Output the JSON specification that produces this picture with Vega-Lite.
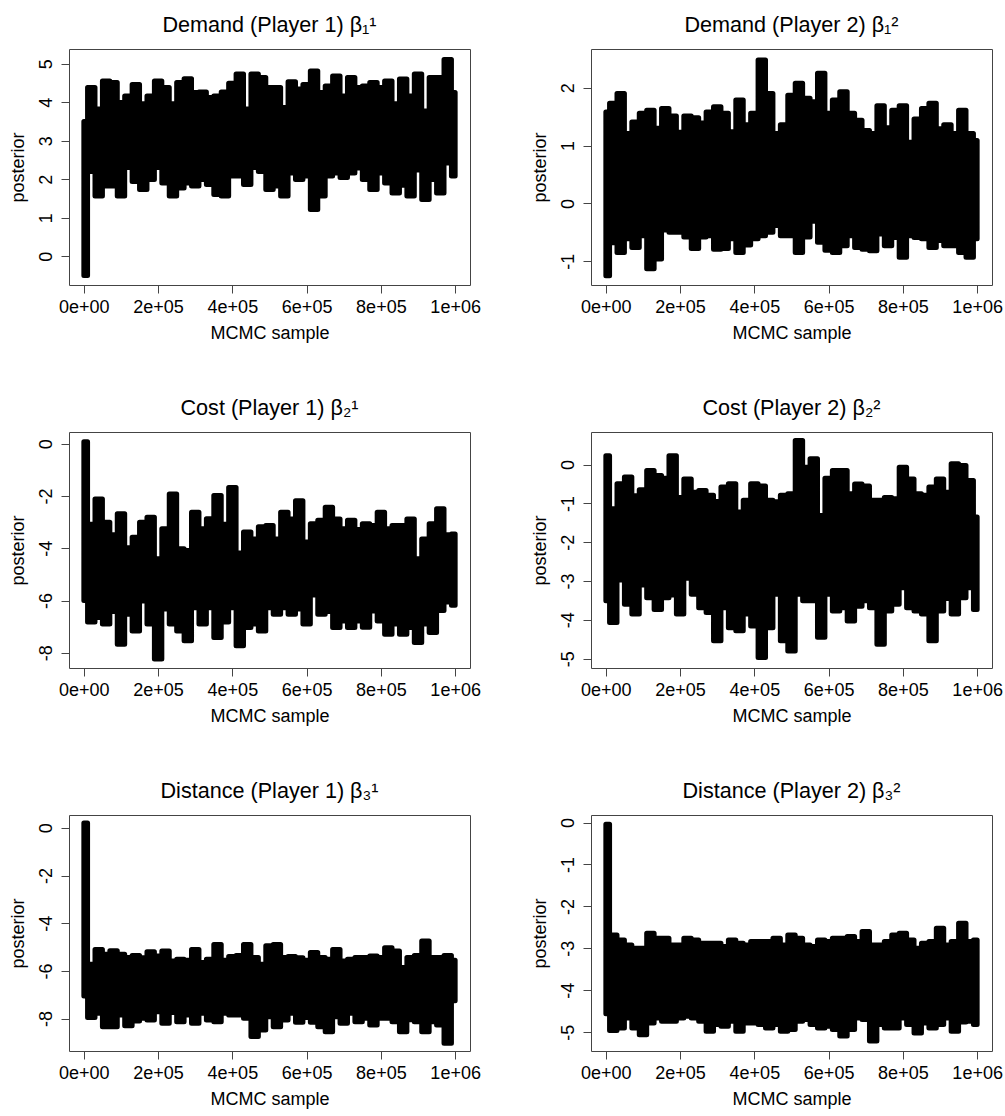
{
  "$schema": "https://vega.github.io/schema/vega-lite/v6.json",
  "background": "white",
  "padding": {"left": 8, "top": 14, "right": 0, "bottom": 0},
  "columns": 2,
  "bounds": "flush",
  "spacing": {"row": 147, "column": 121},
  "config": {
    "font": "Liberation Sans",
    "view": {"stroke": "#444", "strokeWidth": 1},
    "axis": {"labelFont": "Liberation Sans", "titleFont": "Liberation Sans", "labelFontSize": 18, "titleFontSize": 18, "titleFontWeight": "normal", "labelColor": "black", "titleColor": "black", "grid": false, "domain": false, "tickColor": "#444", "tickSize": 8, "labelOverlap": false, "labelFlush": false},
    "axisX": {"labelPadding": 5, "titlePadding": 8},
    "axisY": {"labelAngle": -90, "labelAlign": "center", "labelBaseline": "bottom", "labelPadding": 6, "titlePadding": 10},
    "title": {"fontSize": 21.6, "fontWeight": "normal", "font": "Liberation Sans", "offset": 12, "color": "black"},
    "area": {"interpolate": "step", "orient": "vertical", "color": "black", "stroke": "black", "strokeWidth": 5, "strokeJoin": "round", "strokeCap": "round"}
  },
  "datasets": {
    "p1": [
      {"x":0,"hi":3.5,"lo":-0.5},{"x":20000,"hi":4.38,"lo":2.2},{"x":40000,"hi":3.82,"lo":1.56},{"x":60000,"hi":4.55,"lo":1.82},{"x":80000,"hi":4.51,"lo":1.82},{"x":100000,"hi":3.99,"lo":1.56},{"x":120000,"hi":4.16,"lo":2.3},{"x":140000,"hi":4.46,"lo":1.94},{"x":160000,"hi":3.96,"lo":1.73},{"x":180000,"hi":4.16,"lo":1.99},{"x":200000,"hi":4.55,"lo":2.3},{"x":220000,"hi":4.38,"lo":1.9},{"x":240000,"hi":3.96,"lo":1.56},{"x":260000,"hi":4.51,"lo":1.77},{"x":280000,"hi":4.61,"lo":1.9},{"x":300000,"hi":4.25,"lo":1.82},{"x":320000,"hi":4.26,"lo":1.99},{"x":340000,"hi":4.12,"lo":1.86},{"x":360000,"hi":4.16,"lo":1.6},{"x":380000,"hi":4.26,"lo":1.56},{"x":400000,"hi":4.49,"lo":2.08},{"x":420000,"hi":4.73,"lo":2.08},{"x":440000,"hi":3.82,"lo":1.86},{"x":460000,"hi":4.73,"lo":2.3},{"x":480000,"hi":4.64,"lo":2.2},{"x":500000,"hi":4.38,"lo":1.73},{"x":520000,"hi":4.38,"lo":1.82},{"x":540000,"hi":3.86,"lo":1.56},{"x":560000,"hi":4.53,"lo":2.16},{"x":580000,"hi":4.34,"lo":1.99},{"x":600000,"hi":4.46,"lo":2.08},{"x":620000,"hi":4.81,"lo":1.21},{"x":640000,"hi":4.25,"lo":1.56},{"x":660000,"hi":4.42,"lo":2.08},{"x":680000,"hi":4.68,"lo":2.16},{"x":700000,"hi":4.16,"lo":2.04},{"x":720000,"hi":4.64,"lo":2.16},{"x":740000,"hi":4.38,"lo":2.29},{"x":760000,"hi":4.42,"lo":1.99},{"x":780000,"hi":4.51,"lo":1.73},{"x":800000,"hi":4.38,"lo":2.16},{"x":820000,"hi":4.55,"lo":1.9},{"x":840000,"hi":3.96,"lo":1.64},{"x":860000,"hi":4.6,"lo":1.84},{"x":880000,"hi":4.16,"lo":1.56},{"x":900000,"hi":4.73,"lo":2.24},{"x":920000,"hi":3.77,"lo":1.47},{"x":940000,"hi":4.64,"lo":1.99},{"x":960000,"hi":4.64,"lo":1.64},{"x":980000,"hi":5.11,"lo":2.42},{"x":1000000,"hi":4.25,"lo":2.08}
    ],
    "p2": [
      {"x":0,"hi":1.58,"lo":-1.25},{"x":20000,"hi":1.73,"lo":-0.68},{"x":40000,"hi":1.9,"lo":-0.85},{"x":60000,"hi":1.21,"lo":-0.61},{"x":80000,"hi":1.41,"lo":-0.76},{"x":100000,"hi":1.56,"lo":-0.56},{"x":120000,"hi":1.61,"lo":-1.13},{"x":140000,"hi":1.3,"lo":-0.96},{"x":160000,"hi":1.64,"lo":-0.46},{"x":180000,"hi":1.51,"lo":-0.5},{"x":200000,"hi":1.23,"lo":-0.5},{"x":220000,"hi":1.51,"lo":-0.58},{"x":240000,"hi":1.48,"lo":-0.78},{"x":260000,"hi":1.39,"lo":-0.58},{"x":280000,"hi":1.58,"lo":-0.56},{"x":300000,"hi":1.67,"lo":-0.79},{"x":320000,"hi":1.56,"lo":-0.78},{"x":340000,"hi":1.24,"lo":-0.61},{"x":360000,"hi":1.79,"lo":-0.85},{"x":380000,"hi":1.36,"lo":-0.72},{"x":400000,"hi":1.56,"lo":-0.61},{"x":420000,"hi":2.48,"lo":-0.56},{"x":440000,"hi":1.9,"lo":-0.5},{"x":460000,"hi":1.21,"lo":-0.38},{"x":480000,"hi":1.36,"lo":-0.56},{"x":500000,"hi":1.87,"lo":-0.56},{"x":520000,"hi":2.08,"lo":-0.85},{"x":540000,"hi":1.82,"lo":-0.58},{"x":560000,"hi":1.76,"lo":-0.31},{"x":580000,"hi":2.25,"lo":-0.67},{"x":600000,"hi":1.56,"lo":-0.81},{"x":620000,"hi":1.79,"lo":-0.85},{"x":640000,"hi":1.93,"lo":-0.73},{"x":660000,"hi":1.56,"lo":-0.56},{"x":680000,"hi":1.44,"lo":-0.76},{"x":700000,"hi":1.26,"lo":-0.79},{"x":720000,"hi":1.21,"lo":-0.82},{"x":740000,"hi":1.69,"lo":-0.53},{"x":760000,"hi":1.31,"lo":-0.73},{"x":780000,"hi":1.61,"lo":-0.59},{"x":800000,"hi":1.69,"lo":-0.93},{"x":820000,"hi":1.06,"lo":-0.56},{"x":840000,"hi":1.46,"lo":-0.59},{"x":860000,"hi":1.64,"lo":-0.61},{"x":880000,"hi":1.73,"lo":-0.76},{"x":900000,"hi":1.29,"lo":-0.64},{"x":920000,"hi":1.36,"lo":-0.73},{"x":940000,"hi":1.21,"lo":-0.73},{"x":960000,"hi":1.61,"lo":-0.85},{"x":980000,"hi":1.21,"lo":-0.93},{"x":1000000,"hi":1.09,"lo":-0.61}
    ],
    "p3": [
      {"x":0,"hi":0.08,"lo":-6.0},{"x":20000,"hi":-3.08,"lo":-6.82},{"x":40000,"hi":-2.11,"lo":-6.65},{"x":60000,"hi":-3.0,"lo":-6.9},{"x":80000,"hi":-3.48,"lo":-6.42},{"x":100000,"hi":-2.68,"lo":-7.67},{"x":120000,"hi":-3.98,"lo":-6.52},{"x":140000,"hi":-3.58,"lo":-7.16},{"x":160000,"hi":-3.0,"lo":-6.02},{"x":180000,"hi":-2.81,"lo":-6.9},{"x":200000,"hi":-4.4,"lo":-8.24},{"x":220000,"hi":-3.25,"lo":-6.32},{"x":240000,"hi":-1.92,"lo":-6.9},{"x":260000,"hi":-4.02,"lo":-7.16},{"x":280000,"hi":-4.08,"lo":-7.54},{"x":300000,"hi":-2.62,"lo":-6.27},{"x":320000,"hi":-3.25,"lo":-6.9},{"x":340000,"hi":-2.87,"lo":-6.27},{"x":360000,"hi":-1.98,"lo":-7.41},{"x":380000,"hi":-3.08,"lo":-6.82},{"x":400000,"hi":-1.67,"lo":-6.27},{"x":420000,"hi":-4.18,"lo":-7.73},{"x":440000,"hi":-3.38,"lo":-7.03},{"x":460000,"hi":-3.64,"lo":-6.9},{"x":480000,"hi":-3.18,"lo":-7.16},{"x":500000,"hi":-3.13,"lo":-6.27},{"x":520000,"hi":-3.64,"lo":-6.52},{"x":540000,"hi":-2.62,"lo":-6.27},{"x":560000,"hi":-2.88,"lo":-6.52},{"x":580000,"hi":-2.18,"lo":-6.32},{"x":600000,"hi":-3.76,"lo":-6.9},{"x":620000,"hi":-3.06,"lo":-5.79},{"x":640000,"hi":-2.93,"lo":-6.52},{"x":660000,"hi":-2.43,"lo":-6.42},{"x":680000,"hi":-2.88,"lo":-7.03},{"x":700000,"hi":-3.25,"lo":-6.78},{"x":720000,"hi":-2.93,"lo":-7.03},{"x":740000,"hi":-3.28,"lo":-6.78},{"x":760000,"hi":-3.06,"lo":-7.02},{"x":780000,"hi":-3.13,"lo":-6.4},{"x":800000,"hi":-2.62,"lo":-6.78},{"x":820000,"hi":-3.25,"lo":-7.29},{"x":840000,"hi":-3.13,"lo":-6.9},{"x":860000,"hi":-3.13,"lo":-7.29},{"x":880000,"hi":-2.88,"lo":-7.03},{"x":900000,"hi":-4.4,"lo":-7.6},{"x":920000,"hi":-3.64,"lo":-6.9},{"x":940000,"hi":-3.06,"lo":-7.22},{"x":960000,"hi":-2.49,"lo":-6.38},{"x":980000,"hi":-3.48,"lo":-6.05},{"x":1000000,"hi":-3.45,"lo":-6.18}
    ],
    "p4": [
      {"x":0,"hi":0.23,"lo":-3.51},{"x":20000,"hi":-1.14,"lo":-4.07},{"x":40000,"hi":-0.49,"lo":-2.97},{"x":60000,"hi":-0.32,"lo":-3.6},{"x":80000,"hi":-0.8,"lo":-3.85},{"x":100000,"hi":-0.65,"lo":-3.1},{"x":120000,"hi":-0.15,"lo":-3.43},{"x":140000,"hi":-0.28,"lo":-3.73},{"x":160000,"hi":-0.35,"lo":-3.43},{"x":180000,"hi":0.23,"lo":-3.36},{"x":200000,"hi":-0.85,"lo":-3.85},{"x":220000,"hi":-0.37,"lo":-2.93},{"x":240000,"hi":-0.71,"lo":-3.34},{"x":260000,"hi":-0.67,"lo":-3.69},{"x":280000,"hi":-0.79,"lo":-3.81},{"x":300000,"hi":-0.95,"lo":-4.54},{"x":320000,"hi":-0.58,"lo":-3.69},{"x":340000,"hi":-0.49,"lo":-4.2},{"x":360000,"hi":-1.22,"lo":-4.28},{"x":380000,"hi":-0.92,"lo":-3.85},{"x":400000,"hi":-0.49,"lo":-4.16},{"x":420000,"hi":-0.55,"lo":-4.97},{"x":440000,"hi":-0.92,"lo":-4.2},{"x":460000,"hi":-0.96,"lo":-3.34},{"x":480000,"hi":-0.79,"lo":-4.54},{"x":500000,"hi":-0.75,"lo":-4.8},{"x":520000,"hi":0.62,"lo":-3.34},{"x":540000,"hi":-0.07,"lo":-3.51},{"x":560000,"hi":0.15,"lo":-3.51},{"x":580000,"hi":-1.31,"lo":-4.45},{"x":600000,"hi":-0.35,"lo":-3.34},{"x":620000,"hi":-0.15,"lo":-3.77},{"x":640000,"hi":-0.15,"lo":-3.69},{"x":660000,"hi":-0.75,"lo":-4.03},{"x":680000,"hi":-0.5,"lo":-3.65},{"x":700000,"hi":-0.55,"lo":-3.51},{"x":720000,"hi":-0.92,"lo":-3.69},{"x":740000,"hi":-0.92,"lo":-4.63},{"x":760000,"hi":-0.85,"lo":-3.77},{"x":780000,"hi":-0.88,"lo":-3.6},{"x":800000,"hi":-0.07,"lo":-3.17},{"x":820000,"hi":-0.37,"lo":-3.69},{"x":840000,"hi":-0.75,"lo":-3.77},{"x":860000,"hi":-0.79,"lo":-3.85},{"x":880000,"hi":-0.58,"lo":-4.54},{"x":900000,"hi":-0.37,"lo":-3.77},{"x":920000,"hi":-0.71,"lo":-3.45},{"x":940000,"hi":0.02,"lo":-3.85},{"x":960000,"hi":-0.02,"lo":-3.43},{"x":980000,"hi":-0.41,"lo":-3.17},{"x":1000000,"hi":-1.35,"lo":-3.73}
    ],
    "p5": [
      {"x":0,"hi":0.2,"lo":-7.05},{"x":20000,"hi":-5.72,"lo":-7.95},{"x":40000,"hi":-5.1,"lo":-7.78},{"x":60000,"hi":-5.3,"lo":-8.34},{"x":80000,"hi":-5.15,"lo":-8.34},{"x":100000,"hi":-5.3,"lo":-7.85},{"x":120000,"hi":-5.44,"lo":-8.3},{"x":140000,"hi":-5.35,"lo":-8.1},{"x":160000,"hi":-5.45,"lo":-7.99},{"x":180000,"hi":-5.2,"lo":-8.06},{"x":200000,"hi":-5.37,"lo":-7.71},{"x":220000,"hi":-5.17,"lo":-8.2},{"x":240000,"hi":-5.58,"lo":-7.75},{"x":260000,"hi":-5.51,"lo":-8.13},{"x":280000,"hi":-5.55,"lo":-7.85},{"x":300000,"hi":-5.1,"lo":-8.2},{"x":320000,"hi":-5.65,"lo":-7.78},{"x":340000,"hi":-5.51,"lo":-8.06},{"x":360000,"hi":-4.89,"lo":-8.13},{"x":380000,"hi":-5.55,"lo":-7.78},{"x":400000,"hi":-5.4,"lo":-7.85},{"x":420000,"hi":-5.35,"lo":-7.85},{"x":440000,"hi":-4.89,"lo":-7.99},{"x":460000,"hi":-5.44,"lo":-8.75},{"x":480000,"hi":-5.72,"lo":-8.48},{"x":500000,"hi":-4.95,"lo":-7.92},{"x":520000,"hi":-4.89,"lo":-8.34},{"x":540000,"hi":-5.44,"lo":-8.06},{"x":560000,"hi":-5.4,"lo":-7.78},{"x":580000,"hi":-5.45,"lo":-8.15},{"x":600000,"hi":-5.55,"lo":-7.95},{"x":620000,"hi":-5.23,"lo":-8.15},{"x":640000,"hi":-5.44,"lo":-8.34},{"x":660000,"hi":-5.51,"lo":-8.55},{"x":680000,"hi":-5.1,"lo":-7.92},{"x":700000,"hi":-5.58,"lo":-8.2},{"x":720000,"hi":-5.51,"lo":-7.78},{"x":740000,"hi":-5.44,"lo":-8.13},{"x":760000,"hi":-5.44,"lo":-7.99},{"x":780000,"hi":-5.37,"lo":-8.27},{"x":800000,"hi":-5.44,"lo":-7.99},{"x":820000,"hi":-5.03,"lo":-7.99},{"x":840000,"hi":-5.17,"lo":-8.13},{"x":860000,"hi":-5.86,"lo":-8.55},{"x":880000,"hi":-5.44,"lo":-8.05},{"x":900000,"hi":-5.35,"lo":-8.13},{"x":920000,"hi":-4.75,"lo":-8.55},{"x":940000,"hi":-5.44,"lo":-8.13},{"x":960000,"hi":-5.44,"lo":-8.27},{"x":980000,"hi":-5.35,"lo":-9.04},{"x":1000000,"hi":-5.55,"lo":-7.25}
    ],
    "p6": [
      {"x":0,"hi":-0.04,"lo":-4.56},{"x":20000,"hi":-2.68,"lo":-4.96},{"x":40000,"hi":-2.8,"lo":-4.9},{"x":60000,"hi":-2.92,"lo":-4.66},{"x":80000,"hi":-3.0,"lo":-4.9},{"x":100000,"hi":-3.0,"lo":-5.06},{"x":120000,"hi":-2.64,"lo":-4.78},{"x":140000,"hi":-2.76,"lo":-4.66},{"x":160000,"hi":-2.76,"lo":-4.74},{"x":180000,"hi":-2.92,"lo":-4.74},{"x":200000,"hi":-2.92,"lo":-4.66},{"x":220000,"hi":-2.76,"lo":-4.62},{"x":240000,"hi":-2.8,"lo":-4.66},{"x":260000,"hi":-2.88,"lo":-4.74},{"x":280000,"hi":-2.88,"lo":-4.98},{"x":300000,"hi":-2.88,"lo":-4.82},{"x":320000,"hi":-2.96,"lo":-4.86},{"x":340000,"hi":-2.8,"lo":-4.74},{"x":360000,"hi":-2.88,"lo":-4.98},{"x":380000,"hi":-2.92,"lo":-4.78},{"x":400000,"hi":-2.84,"lo":-4.78},{"x":420000,"hi":-2.84,"lo":-4.82},{"x":440000,"hi":-2.84,"lo":-4.9},{"x":460000,"hi":-2.76,"lo":-4.82},{"x":480000,"hi":-2.92,"lo":-4.98},{"x":500000,"hi":-2.68,"lo":-4.94},{"x":520000,"hi":-2.76,"lo":-4.74},{"x":540000,"hi":-2.92,"lo":-4.7},{"x":560000,"hi":-2.96,"lo":-4.82},{"x":580000,"hi":-2.8,"lo":-4.9},{"x":600000,"hi":-2.84,"lo":-4.86},{"x":620000,"hi":-2.76,"lo":-4.94},{"x":640000,"hi":-2.76,"lo":-5.09},{"x":660000,"hi":-2.72,"lo":-4.94},{"x":680000,"hi":-2.84,"lo":-4.66},{"x":700000,"hi":-2.6,"lo":-4.7},{"x":720000,"hi":-2.92,"lo":-5.21},{"x":740000,"hi":-2.92,"lo":-4.82},{"x":760000,"hi":-2.84,"lo":-4.9},{"x":780000,"hi":-2.68,"lo":-4.9},{"x":800000,"hi":-2.64,"lo":-4.66},{"x":820000,"hi":-2.8,"lo":-4.82},{"x":840000,"hi":-3.0,"lo":-5.02},{"x":860000,"hi":-2.88,"lo":-4.78},{"x":880000,"hi":-2.84,"lo":-4.9},{"x":900000,"hi":-2.52,"lo":-4.82},{"x":920000,"hi":-2.92,"lo":-4.66},{"x":940000,"hi":-2.84,"lo":-4.98},{"x":960000,"hi":-2.4,"lo":-4.76},{"x":980000,"hi":-2.84,"lo":-4.74},{"x":1000000,"hi":-2.8,"lo":-4.82}
    ]
  },
  "concat": [
    {
      "width": 401, "height": 236,
      "title": "Demand (Player 1) β₁¹",
      "data": {"name": "p1"},
      "mark": {"type": "area"},
      "encoding": {
        "x": {"field": "x", "type": "quantitative", "title": "MCMC sample", "scale": {"domain": [-40000, 1040000], "nice": false, "zero": false}, "axis": {"values": [0, 200000, 400000, 600000, 800000, 1000000], "labelExpr": "datum.value == 0 ? '0e+00' : datum.value < 1000000 ? format(datum.value / 100000, 'd') + 'e+05' : '1e+06'"}},
        "y": {"field": "hi", "type": "quantitative", "title": "posterior", "scale": {"domain": [-0.75, 5.38], "nice": false, "zero": false}, "axis": {"values": [0, 1, 2, 3, 4, 5], "labelExpr": "'' + datum.value"}},
        "y2": {"field": "lo"}
      }
    },
    {
      "width": 401, "height": 236,
      "title": "Demand (Player 2) β₁²",
      "data": {"name": "p2"},
      "mark": {"type": "area"},
      "encoding": {
        "x": {"field": "x", "type": "quantitative", "title": "MCMC sample", "scale": {"domain": [-40000, 1040000], "nice": false, "zero": false}, "axis": {"values": [0, 200000, 400000, 600000, 800000, 1000000], "labelExpr": "datum.value == 0 ? '0e+00' : datum.value < 1000000 ? format(datum.value / 100000, 'd') + 'e+05' : '1e+06'"}},
        "y": {"field": "hi", "type": "quantitative", "title": "posterior", "scale": {"domain": [-1.41, 2.67], "nice": false, "zero": false}, "axis": {"values": [-1, 0, 1, 2], "labelExpr": "'' + datum.value"}},
        "y2": {"field": "lo"}
      }
    },
    {
      "width": 401, "height": 236,
      "title": "Cost (Player 1) β₂¹",
      "data": {"name": "p3"},
      "mark": {"type": "area"},
      "encoding": {
        "x": {"field": "x", "type": "quantitative", "title": "MCMC sample", "scale": {"domain": [-40000, 1040000], "nice": false, "zero": false}, "axis": {"values": [0, 200000, 400000, 600000, 800000, 1000000], "labelExpr": "datum.value == 0 ? '0e+00' : datum.value < 1000000 ? format(datum.value / 100000, 'd') + 'e+05' : '1e+06'"}},
        "y": {"field": "hi", "type": "quantitative", "title": "posterior", "scale": {"domain": [-8.58, 0.45], "nice": false, "zero": false}, "axis": {"values": [-8, -6, -4, -2, 0], "labelExpr": "'' + datum.value"}},
        "y2": {"field": "lo"}
      }
    },
    {
      "width": 401, "height": 236,
      "title": "Cost (Player 2) β₂²",
      "data": {"name": "p4"},
      "mark": {"type": "area"},
      "encoding": {
        "x": {"field": "x", "type": "quantitative", "title": "MCMC sample", "scale": {"domain": [-40000, 1040000], "nice": false, "zero": false}, "axis": {"values": [0, 200000, 400000, 600000, 800000, 1000000], "labelExpr": "datum.value == 0 ? '0e+00' : datum.value < 1000000 ? format(datum.value / 100000, 'd') + 'e+05' : '1e+06'"}},
        "y": {"field": "hi", "type": "quantitative", "title": "posterior", "scale": {"domain": [-5.24, 0.84], "nice": false, "zero": false}, "axis": {"values": [-5, -4, -3, -2, -1, 0], "labelExpr": "'' + datum.value"}},
        "y2": {"field": "lo"}
      }
    },
    {
      "width": 401, "height": 236,
      "title": "Distance (Player 1) β₃¹",
      "data": {"name": "p5"},
      "mark": {"type": "area"},
      "encoding": {
        "x": {"field": "x", "type": "quantitative", "title": "MCMC sample", "scale": {"domain": [-40000, 1040000], "nice": false, "zero": false}, "axis": {"values": [0, 200000, 400000, 600000, 800000, 1000000], "labelExpr": "datum.value == 0 ? '0e+00' : datum.value < 1000000 ? format(datum.value / 100000, 'd') + 'e+05' : '1e+06'"}},
        "y": {"field": "hi", "type": "quantitative", "title": "posterior", "scale": {"domain": [-9.36, 0.54], "nice": false, "zero": false}, "axis": {"values": [-8, -6, -4, -2, 0], "labelExpr": "'' + datum.value"}},
        "y2": {"field": "lo"}
      }
    },
    {
      "width": 401, "height": 236,
      "title": "Distance (Player 2) β₃²",
      "data": {"name": "p6"},
      "mark": {"type": "area"},
      "encoding": {
        "x": {"field": "x", "type": "quantitative", "title": "MCMC sample", "scale": {"domain": [-40000, 1040000], "nice": false, "zero": false}, "axis": {"values": [0, 200000, 400000, 600000, 800000, 1000000], "labelExpr": "datum.value == 0 ? '0e+00' : datum.value < 1000000 ? format(datum.value / 100000, 'd') + 'e+05' : '1e+06'"}},
        "y": {"field": "hi", "type": "quantitative", "title": "posterior", "scale": {"domain": [-5.45, 0.18], "nice": false, "zero": false}, "axis": {"values": [-5, -4, -3, -2, -1, 0], "labelExpr": "'' + datum.value"}},
        "y2": {"field": "lo"}
      }
    }
  ]
}
